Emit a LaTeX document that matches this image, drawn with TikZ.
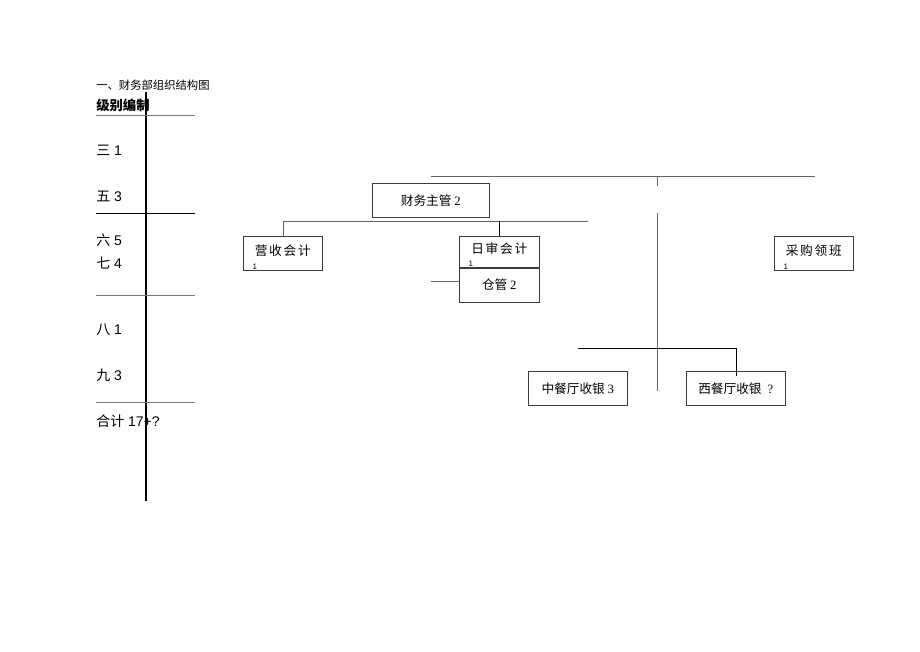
\documentclass[tikz,border=0pt]{standalone}
\usepackage{fontspec}
\newfontfamily\cjk{Noto Sans CJK SC}
\newfontfamily\cjkwide[LetterSpace=14]{Noto Sans CJK SC}
\setmainfont{Liberation Serif}
\setsansfont{Liberation Sans}
\usetikzlibrary{positioning}

\begin{document}
\begin{tikzpicture}[
    x=0.75pt, y=-0.75pt,
    every node/.style={inner sep=0pt},
    rank/.style={anchor=west, font=\sffamily\fontsize{10.5}{12}\selectfont},
    unit/.style={draw={rgb,255:red,60;green,60;blue,60}, anchor=north west,
                 minimum height=25.5pt, font=\cjk\fontsize{9.5}{11}\selectfont},
    wide/.style={font=\cjkwide\fontsize{9.5}{11}\selectfont, text depth=5pt},
    one/.style={label={[font=\sffamily\fontsize{6}{7}\selectfont, anchor=south west,
                xshift=7pt, yshift=0.5pt]south west:1}},
    link/.style={draw={rgb,255:red,90;green,105;blue,90}, line width=0.6pt},
    rule/.style={draw={rgb,255:red,120;green,120;blue,120}, line width=0.7pt}
]
\useasboundingbox (0,0) rectangle (920,651);

% left column: ranks
\node[anchor=west, font=\cjk\fontsize{8.5}{10}\selectfont] (title) at (96,85) {一、财务部组织结构图};
\node[rank, font=\cjk\bfseries\fontsize{10}{11}\selectfont] (head) at (96,105) {级别编制};
\node[rank] (r3) at (96,150) {{\cjk 三} 1};
\node[rank] (r5) at (96,196) {{\cjk 五} 3};
\node[rank] (r6) at (96,240) {{\cjk 六} 5};
\node[rank] (r7) at (96,263) {{\cjk 七} 4};
\node[rank] (r8) at (96,330) {{\cjk 八} 1};
\node[rank] (r9) at (96,375) {{\cjk 九} 3};
\node[rank] (sum) at (96,421) {{\cjk 合计} 17+?};
\coordinate (colT) at (146,92);
\coordinate (colB) at (146,501);
\draw[line width=0.8pt] (colT) -- (colB);
\draw[rule] (96,115) -- (195,115);
\draw[line width=0.7pt] (96,213) -- (195,213);
\draw[rule] (96,295) -- (195,295);
\draw[rule] (96,402) -- (195,402);

% org chart boxes
\node[unit, minimum width=87.75pt] (chief) at (372,183) {财务主管 {\rmfamily 2}};
\node[unit, wide, one, minimum width=59.25pt] (income) at (243,236) {营收会计};
\node[unit, wide, one, minimum width=60pt, minimum height=23.25pt] (audit) at (459,236) {日审会计};
\node[unit, minimum width=60pt, minimum height=25.5pt, below=0pt of audit.south west, anchor=north west] (store) {仓管 {\rmfamily 2}};
\node[unit, wide, one, minimum width=59.25pt] (buyer) at (774,236) {采购领班};
\node[unit, minimum width=74.25pt] (cncash) at (528,371) {中餐厅收银 {\rmfamily 3}};
\node[unit, minimum width=74.25pt] (wcash) at (686,371) {西餐厅收银 {\rmfamily\ ?}};

% connectors
\coordinate (topL) at (431,176);
\coordinate (topR) at (815,176);
\coordinate (tick) at (657,186);
\coordinate (barL) at (283,221);
\coordinate (barR) at (588,221);
\coordinate (stemT) at (657,213);
\coordinate (stemB) at (657,391);
\coordinate (restL) at (578,348);
\coordinate (restR) at (736,348);
\coordinate (restD) at (736,376);
\coordinate (storeL) at (431,281);
\draw[link] (topL) -- (topR);
\draw[link] (tick |- topL) -- (tick);
\draw[link] (barL) -- (barR);
\draw[link] (barL) -- (barL |- income.north);
\draw[link, black] (audit.north |- barL) -- (audit.north);
\draw[link] (stemT) -- (stemB);
\draw[link, black] (restL) -- (restR) -- (restD);
\draw[link] (storeL) -- (storeL -| store.west);
\end{tikzpicture}
\end{document}
